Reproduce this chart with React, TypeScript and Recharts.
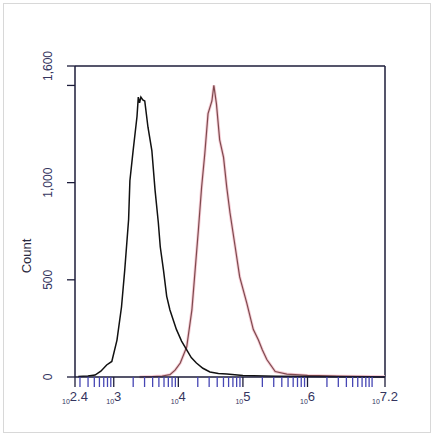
import React from 'react';
import { LineChart, Line, XAxis, YAxis, ReferenceLine } from 'recharts';

// x positions are log10 of the fluorescence channel
const blackLog = [2.45, 2.6, 2.71, 2.8, 2.89, 2.97, 3.05, 3.12, 3.17, 3.23, 3.25, 3.3, 3.36, 3.38, 3.4, 3.42, 3.45, 3.48, 3.53, 3.59, 3.64, 3.69, 3.72, 3.77, 3.82, 3.87, 3.97, 4.05, 4.13, 4.2, 4.28, 4.38, 4.49, 4.62, 4.75, 5.0, 5.5, 6.0, 6.5, 7.2];
const blackCount = [3, 5, 10, 30, 62, 80, 190, 360, 550, 810, 1010, 1165, 1340, 1440, 1410, 1440, 1425, 1420, 1285, 1165, 960, 795, 670, 550, 415, 345, 245, 185, 140, 100, 72, 45, 26, 18, 15, 8, 4, 2, 1, 0];

const redLog = [3.4, 3.6, 3.75, 3.87, 3.95, 4.03, 4.13, 4.21, 4.26, 4.31, 4.36, 4.41, 4.46, 4.52, 4.55, 4.59, 4.64, 4.7, 4.75, 4.8, 4.88, 4.95, 5.06, 5.16, 5.24, 5.3, 5.37, 5.5, 5.68, 6.0, 6.5, 7.0, 7.2];
const redCount = [0, 2, 5, 12, 35, 72, 155, 345, 550, 755, 975, 1150, 1355, 1420, 1500, 1405, 1220, 1130, 975, 845, 670, 515, 380, 245, 190, 140, 90, 28, 15, 8, 4, 2, 1];

const yTicks = [0, 500, 1000, 1500, 1600];
const yLabels: Record<number, string> = { 0: '0', 500: '500', 1000: '1,000', 1600: '1,600' };

const xMajor = [2.4, 3, 4, 5, 6, 7.2];
const xMajorLabels = ['2.4', '3', '4', '5', '6', '7.2'];
const decades = [2, 3, 4, 5, 6, 7];
const multiples = [2, 3, 4, 5, 6, 7, 8, 9];

const xMinor: number[] = [];
decades.forEach((d) => {
  multiples.forEach((m) => {
    const v = d + Math.log10(m);
    if (v > 2.4 && v < 7.2) xMinor.push(v);
  });
});
xMinor.push(7);
const xTicks = [...xMajor, ...xMinor].sort((a, b) => a - b);

const blackData = blackLog.map((x, i) => ({ x, y: blackCount[i] }));
const redData = redLog.map((x, i) => ({ x, y: redCount[i] }));

const font = '"Liberation Sans", Arial, sans-serif';
const axisColor = '#1c1c3a';
const labelColor = '#34345e';

const XTick = (props: any) => {
  const { x, y, payload } = props;
  const idx = xMajor.findIndex((v) => Math.abs(v - payload.value) < 1e-6);
  const major = idx >= 0;
  return (
    <g>
      <line x1={x} y1={y} x2={x} y2={y + 10} stroke={major ? axisColor : '#4646b4'} strokeWidth={1.3} />
      {major && (
        <text x={x} y={y + 27} textAnchor="middle" fill={labelColor} fontFamily={font}>
          <tspan fontSize={7}>10</tspan>
          <tspan fontSize={13} dy={-3}>{xMajorLabels[idx]}</tspan>
        </text>
      )}
    </g>
  );
};

const YTick = (props: any) => {
  const { x, y, payload } = props;
  const label = yLabels[payload.value];
  if (!label) return null;
  return (
    <text
      x={x - 13}
      y={y}
      transform={`rotate(-90 ${x - 13} ${y})`}
      textAnchor="middle"
      fill={labelColor}
      fontFamily={font}
      fontSize={12}
    >
      {label}
    </text>
  );
};

const CountLabel = (props: any) => {
  const { viewBox } = props;
  const cx = viewBox.x - 14;
  const cy = 256;
  return (
    <text x={cx} y={cy} transform={`rotate(-90 ${cx} ${cy})`} textAnchor="middle" fill="#2a2a40" fontFamily={font} fontSize={13}>
      Count
    </text>
  );
};

export default function App() {
  return (
    <div style={{ position: 'fixed', top: 0, left: 0, width: 434, height: 437, background: '#fff' }}>
      <div style={{ position: 'absolute', left: 3, top: 3, width: 426, height: 428, border: '1px solid #d8d8d8' }} />
      <LineChart width={434} height={437} margin={{ top: 66, right: 49, left: 45, bottom: 30 }}>
        <XAxis
          type="number"
          dataKey="x"
          domain={[2.4, 7.2]}
          ticks={xTicks}
          interval={0}
          tick={<XTick />}
          tickLine={false}
          tickSize={0}
          tickMargin={0}
          height={30}
          axisLine={{ stroke: axisColor, strokeWidth: 1.5 }}
          allowDataOverflow
        />
        <YAxis
          type="number"
          domain={[0, 1600]}
          ticks={yTicks}
          interval={0}
          width={30}
          tick={<YTick />}
          tickLine={{ stroke: axisColor, strokeWidth: 1.3 }}
          tickSize={8}
          axisLine={{ stroke: axisColor, strokeWidth: 1.5 }}
          label={<CountLabel />}
        />
        <ReferenceLine y={1600} stroke={axisColor} strokeWidth={1.5} />
        <ReferenceLine x={7.2} stroke={axisColor} strokeWidth={1.5} />
        <Line data={redData} dataKey="y" type="linear" stroke="#f6cdd6" strokeWidth={3} dot={false} isAnimationActive={false} />
        <Line data={redData} dataKey="y" type="linear" stroke="#7e4a4e" strokeWidth={1.2} dot={false} isAnimationActive={false} />
        <Line data={blackData} dataKey="y" type="linear" stroke="#111" strokeWidth={1.5} dot={false} isAnimationActive={false} />
      </LineChart>
    </div>
  );
}
